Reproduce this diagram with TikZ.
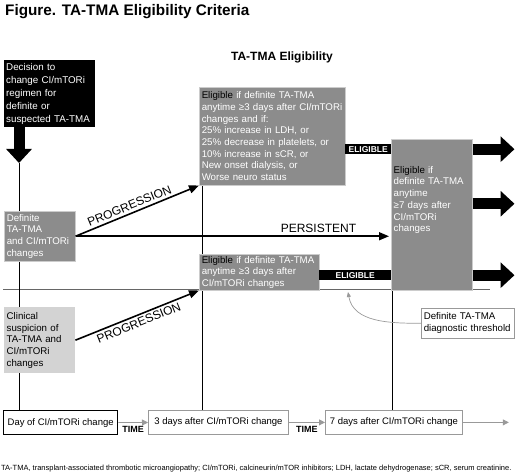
\documentclass[tikz,border=0pt]{standalone}
\usepackage{fontspec}
\setmainfont{Liberation Sans}
\usetikzlibrary{arrows.meta,backgrounds,calc}
\definecolor{boxgray}{HTML}{8C8C8C}
\definecolor{palegray}{HTML}{D3D3D3}
\definecolor{linegray}{HTML}{999999}

\begin{document}
\begin{tikzpicture}[x=1pt,y=-1pt,
	box/.style={anchor=north west,inner xsep=2.5pt,inner ysep=0pt,align=left,font=\fontsize{9.7}{11.7}\selectfont},
	darkbox/.style={box,fill=boxgray,draw=black!20,line width=0.5pt,text=white},
	eligbar/.style={anchor=north west,fill=black,text=white,inner sep=0pt,minimum height=10pt,font=\bfseries\fontsize{8.5}{9}\selectfont},
	daybox/.style={anchor=north west,draw=linegray,fill=white,line width=0.8pt,minimum height=24pt,inner xsep=3pt,font=\fontsize{9.5}{11}\selectfont},
	bigarrow/.style={line width=11pt,-{Triangle[length=14pt,width=25pt]}},
	progarrow/.style={line width=1.6pt,-{Triangle[length=10pt,width=8pt]}},
	timearrow/.style={linegray,line width=0.8pt,-{Triangle[length=6pt,width=6pt]}},
	arrowlabel/.style={font=\fontsize{12}{14}\selectfont,inner sep=2.5pt}]
	\useasboundingbox (0,0) rectangle (520,476);

	\node[anchor=base west,inner sep=0pt,font=\bfseries\fontsize{15.3}{18}\selectfont] (title) at (5,15.5) {Figure. TA-TMA Eligibility Criteria};
	\node[anchor=base,inner sep=0pt,font=\bfseries\fontsize{12}{14}\selectfont] (heading) at (282,61) {TA-TMA Eligibility};

	\node[box,fill=black,text=white,minimum height=67pt,text width=87pt,inner xsep=2pt,font=\fontsize{9.8}{13}\selectfont] (decision) at (4,60) {Decision to\\change CI/mTORi\\regimen for\\definite or\\suspected TA-TMA};
	\node[darkbox,minimum height=50pt,text width=66pt] (definite) at (4,211) {Definite\\TA-TMA\\and CI/mTORi\\changes};
	\node[box,fill=palegray,minimum height=66pt,text width=66pt] (clinical) at (4,307) {Clinical\\suspicion of\\TA-TMA and\\CI/mTORi\\changes};

	\node[darkbox,minimum height=98pt,text width=141pt] (elig3a) at (199,87) {{\color{black}Eligible} if definite TA-TMA\\anytime ≥3 days after CI/mTORi\\changes and if:\\25\% increase in LDH, or\\25\% decrease in platelets, or\\10\% increase in sCR, or\\New onset dialysis, or\\Worse neuro status};
	\node[darkbox,minimum height=36pt,text width=115pt] (elig3b) at (199,254) {{\color{black}Eligible} if definite TA-TMA\\anytime ≥3 days after\\CI/mTORi changes};
	\node[darkbox,minimum height=151pt,text width=76pt] (elig7) at (391,139) {};
	\node[box,text=white,text width=76pt] (elig7text) at (391,166) {{\color{black}Eligible} if\\definite TA-TMA\\anytime\\≥7 days after\\CI/mTORi\\changes};

	\node[eligbar,minimum width=46pt] (eligbara) at (345,144) {ELIGIBLE};
	\node[eligbar,minimum width=72pt] (eligbarb) at (319,270) {ELIGIBLE};

	\node[box,draw=linegray,fill=white,line width=0.6pt,minimum height=30pt,text width=88pt] (threshold) at (421,308) {Definite TA-TMA\\diagnostic threshold};

	\node[daybox,draw=black,line width=1.3pt,minimum width=114pt] (day0) at (3,410) {Day of CI/mTORi change};
	\node[daybox,minimum width=140pt] (day3) at (148,410) {3 days after CI/mTORi change};
	\node[daybox,minimum width=137pt] (day7) at (325,410) {7 days after CI/mTORi change};

	\coordinate (t0) at (19,163);
	\coordinate (t3) at (202,185);
	\coordinate (t7) at (392,290);
	\coordinate (baseleft) at (3,289);
	\coordinate (baseright) at (490,289);
	\coordinate (mark) at (348,292);

	\begin{pgfonlayer}{background}
		\draw[black!60,line width=0.7pt] (baseleft) -- (baseright);
		\draw[line width=0.8pt] (t0) -- (t0 |- day0.north);
		\draw[line width=0.8pt] (t3) -- (t3 |- day3.north);
		\draw[line width=0.8pt] (t7) -- (t7 |- day7.north);
	\end{pgfonlayer}

	\draw[bigarrow] (decision.south -| t0) -- (t0);
	\draw[bigarrow] (elig7.east |- eligbara.center) -- ++(42,0);
	\draw[bigarrow] ($(elig7.east)+(0,-11)$) -- ++(42,0);
	\draw[bigarrow] (elig7.east |- eligbarb.center) -- ++(42,0);

	\draw[progarrow] (definite.east) -- (elig3a.south west) node[pos=0.46,sloped,above,arrowlabel] {PROGRESSION};
	\draw[progarrow] (clinical.east) -- (elig3b.south west) node[pos=0.49,sloped,below,arrowlabel] {PROGRESSION};
	\draw[progarrow,shorten >=2pt] (definite.east) -- (definite.east -| elig7.west) node[pos=0.77,above,arrowlabel] {PERSISTENT};

	\draw[linegray,line width=0.7pt,-{Triangle[length=5pt,width=4pt]}] (threshold.west) to[out=180,in=-80] (mark);

	\draw[timearrow] (day0) -- (day3) node[midway,below=0.5pt,font=\bfseries\fontsize{9}{10}\selectfont,text=black] {TIME};
	\draw[timearrow] (day3) -- (day7) node[midway,below=0.5pt,font=\bfseries\fontsize{9}{10}\selectfont,text=black] {TIME};
	\draw[timearrow] (day7.east) -- ++(46,0);

	\node[anchor=base west,inner sep=0pt,font=\fontsize{7.5}{9}\selectfont] (footnote) at (1,470) {TA-TMA, transplant-associated thrombotic microangiopathy; CI/mTORi, calcineurin/mTOR inhibitors; LDH, lactate dehydrogenase; sCR, serum creatinine.};
\end{tikzpicture}
\end{document}
